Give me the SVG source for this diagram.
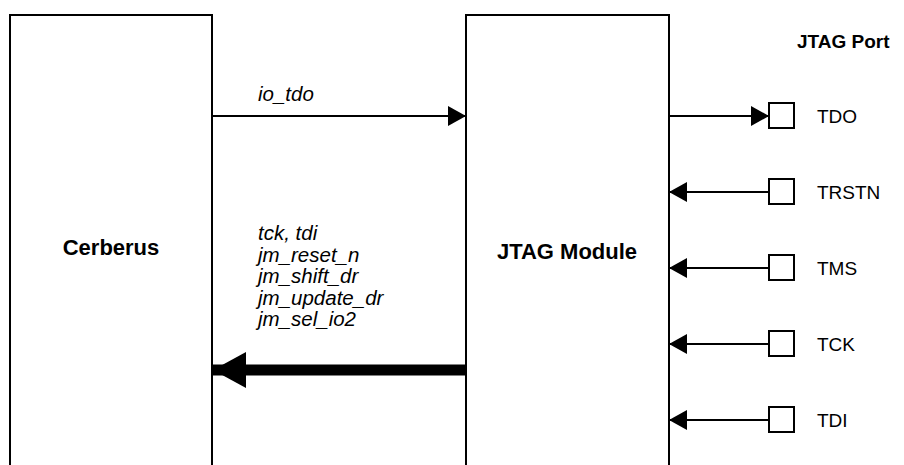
<svg xmlns="http://www.w3.org/2000/svg" width="904" height="465" viewBox="0 0 904 465">
<defs>
<style>
.box{fill:#fff;stroke:#000;stroke-width:2}
.edge{fill:none;stroke:#000;stroke-width:2}
.pin{fill:#fff;stroke:#000;stroke-width:2}
.title{font-family:"Liberation Sans",Arial,sans-serif;font-weight:bold;font-size:22px;fill:#000}
.hdr{font-family:"Liberation Sans",Arial,sans-serif;font-weight:bold;font-size:19px;fill:#000}
.sig{font-family:"Liberation Sans",Arial,sans-serif;font-style:italic;font-size:20.5px;fill:#000}
.port{font-family:"Liberation Sans",Arial,sans-serif;font-size:19px;fill:#000}
</style>
<marker id="ah" markerWidth="18" markerHeight="20" refX="18" refY="10" orient="auto" markerUnits="userSpaceOnUse">
<path d="M0,0 L18,10 L0,20 Z" fill="#000"/>
</marker>
<marker id="ahBig" markerWidth="33" markerHeight="36" refX="33" refY="18" orient="auto" markerUnits="userSpaceOnUse">
<path d="M0,0 L33,18 L0,36 Z" fill="#000"/>
</marker>
</defs>
<g id="cerberus">
<path class="box" d="M10,466 V15 H212 V466"/>
<text class="title" x="111" y="255" text-anchor="middle">Cerberus</text>
</g>
<g id="jtag-module">
<path class="box" d="M466,466 V15 H669 V466"/>
<text class="title" x="567" y="259" text-anchor="middle">JTAG Module</text>
</g>
<g id="jtag-port">
<text class="hdr" x="797" y="48">JTAG Port</text>
</g>
<g id="pin-tdo"><rect class="pin" x="769" y="103" width="25" height="25"/><text class="port" x="817" y="123">TDO</text></g>
<g id="pin-trstn"><rect class="pin" x="769" y="179" width="25" height="25"/><text class="port" x="817" y="199">TRSTN</text></g>
<g id="pin-tms"><rect class="pin" x="769" y="255" width="25" height="25"/><text class="port" x="817" y="275">TMS</text></g>
<g id="pin-tck"><rect class="pin" x="769" y="331" width="25" height="25"/><text class="port" x="817" y="351">TCK</text></g>
<g id="pin-tdi"><rect class="pin" x="769" y="407" width="25" height="25"/><text class="port" x="817" y="427">TDI</text></g>
<g id="connectors">
<line class="edge" x1="212" y1="116" x2="466" y2="116" marker-end="url(#ah)"/>
<line class="edge" x1="669" y1="116" x2="769" y2="116" marker-end="url(#ah)"/>
<line class="edge" x1="769" y1="192" x2="669" y2="192" marker-end="url(#ah)"/>
<line class="edge" x1="769" y1="268" x2="669" y2="268" marker-end="url(#ah)"/>
<line class="edge" x1="769" y1="344" x2="669" y2="344" marker-end="url(#ah)"/>
<line class="edge" x1="769" y1="420" x2="669" y2="420" marker-end="url(#ah)"/>
<line x1="466" y1="370" x2="213" y2="370" stroke="#000" stroke-width="11" marker-end="url(#ahBig)"/>
</g>
<g id="labels">
<text class="sig" x="258" y="101">io_tdo</text>
<text class="sig" x="258" y="240">tck, tdi</text>
<text class="sig" x="258" y="262">jm_reset_n</text>
<text class="sig" x="258" y="283">jm_shift_dr</text>
<text class="sig" x="258" y="305">jm_update_dr</text>
<text class="sig" x="258" y="326">jm_sel_io2</text>
</g>
</svg>
